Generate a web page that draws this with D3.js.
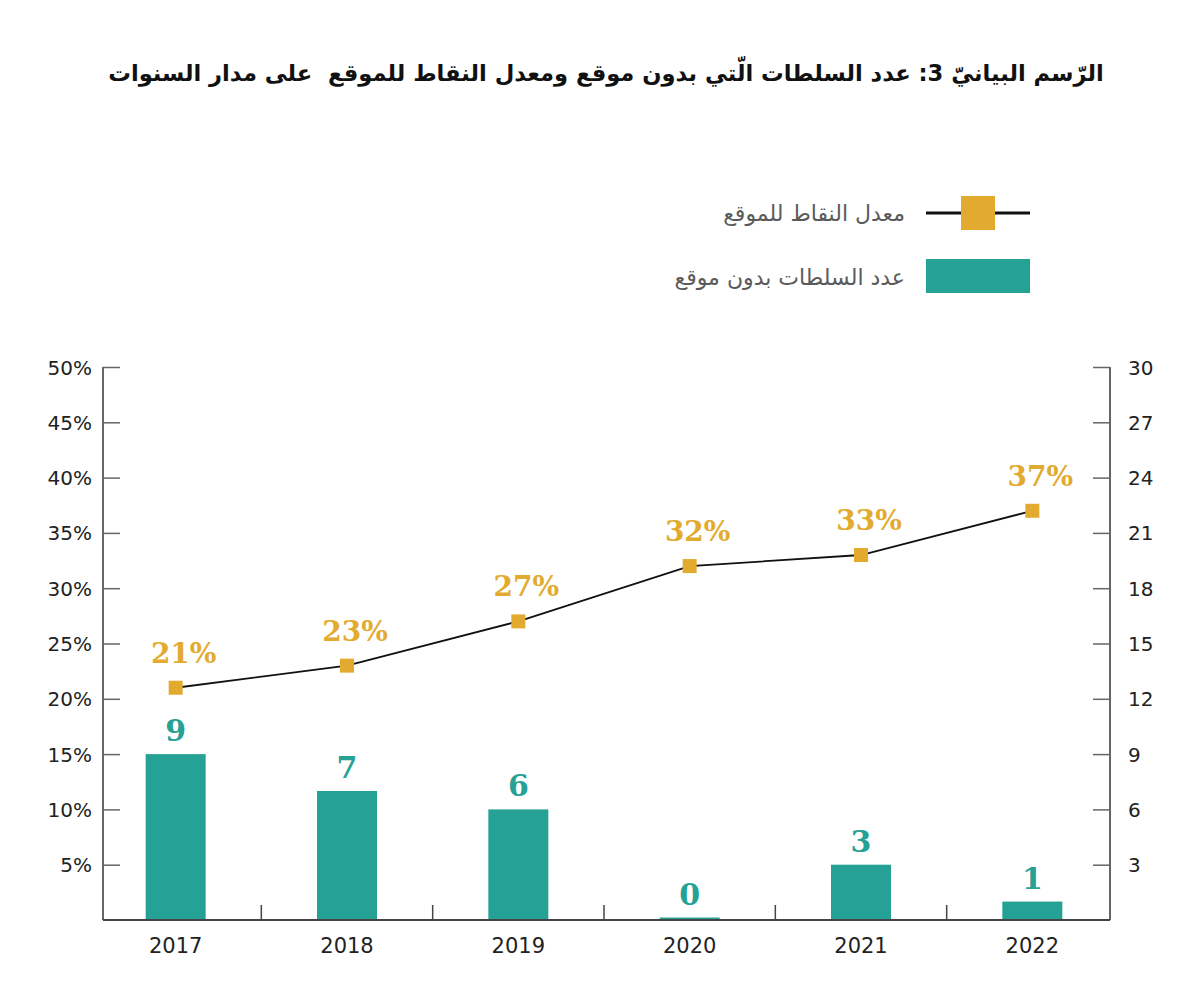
<!DOCTYPE html>
<html>
<head>
<meta charset="utf-8">
<script src="https://cdn.jsdelivr.net/npm/d3@7"></script>
<style>
  html, body { margin: 0; padding: 0; background: #fff; }
  svg { display: block; }
</style>
</head>
<body>
<svg id="chart" width="1200" height="985"></svg>
<script>
const titleText = "الرّسم البيانيّ 3: عدد السلطات الّتي بدون موقع ومعدل النقاط للموقع  على مدار السنوات";
const legendLineLabel = "معدل النقاط للموقع";
const legendBarLabel = "عدد السلطات بدون موقع";
const years = ["2017", "2018", "2019", "2020", "2021", "2022"];
const authoritiesWithoutSite = [9, 7, 6, 0, 3, 1];
const avgScore = [21, 23, 27, 32, 33, 37];
const leftTicks = [5, 10, 15, 20, 25, 30, 35, 40, 45, 50];
const rightTicks = [3, 6, 9, 12, 15, 18, 21, 24, 27, 30];

const TEAL = "#26a196";
const GOLD = "#e2ab30";
const AXIS = "#666";

const svg = d3.select("#chart");

const plotLeft = 103, plotRight = 1110, plotTop = 367, plotBottom = 920;

const x = d3.scaleBand().domain(years).range([90, 1118]).padding(0);
const yL = d3.scaleLinear().domain([0, 50]).range([plotBottom, plotTop]);
const yR = d3.scaleLinear().domain([0, 30]).range([plotBottom, plotTop]);

// Title
svg.append("text")
  .attr("x", 606).attr("y", 81)
  .attr("text-anchor", "middle")
  .attr("direction", "rtl")
  .style("font-family", "'DejaVu Sans', sans-serif")
  .style("font-weight", "bold")
  .style("font-size", "22.6px")
  .style("fill", "#111")
  .style("white-space", "pre")
  .text(titleText);

// Legend
const lg = svg.append("g");
lg.append("line").attr("x1", 926).attr("x2", 1030).attr("y1", 213).attr("y2", 213)
  .attr("stroke", "#111").attr("stroke-width", 3);
lg.append("rect").attr("x", 961).attr("y", 196).attr("width", 34).attr("height", 34).attr("fill", GOLD);
lg.append("text").attr("x", 905).attr("y", 221).attr("text-anchor", "end")
  .style("font-family", "'DejaVu Sans', sans-serif").style("font-size", "22px").style("fill", "#5a5a5a")
  .text(legendLineLabel);
lg.append("rect").attr("x", 926).attr("y", 259).attr("width", 104).attr("height", 34).attr("fill", TEAL);
lg.append("text").attr("x", 905).attr("y", 285).attr("text-anchor", "end")
  .style("font-family", "'DejaVu Sans', sans-serif").style("font-size", "22px").style("fill", "#5a5a5a")
  .text(legendBarLabel);

// Bars
const barW = 60;
const bars = years.map((y, i) => ({ year: y, v: authoritiesWithoutSite[i] }));
svg.append("g").selectAll("rect").data(bars).join("rect")
  .attr("x", d => x(d.year) + x.bandwidth() / 2 - barW / 2)
  .attr("width", barW)
  .attr("y", d => Math.min(yR(d.v), plotBottom - 2.5))
  .attr("height", d => Math.max(plotBottom - yR(d.v), 2.5))
  .attr("fill", TEAL);

svg.append("g").selectAll("text").data(bars).join("text")
  .attr("x", d => x(d.year) + x.bandwidth() / 2)
  .attr("y", d => Math.min(yR(d.v), plotBottom - 2.5) - 13)
  .attr("text-anchor", "middle")
  .style("font-family", "'DejaVu Serif', serif")
  .style("font-weight", "bold")
  .style("font-size", "30px")
  .style("fill", TEAL)
  .text(d => d.v);

// Axes
const axisFont = "'DejaVu Sans', sans-serif";
const gL = svg.append("g").attr("transform", `translate(${plotLeft},0)`)
  .call(d3.axisRight(yL).tickValues(leftTicks).tickSize(17).tickFormat(d => d + "%"));
gL.select(".domain").remove();
gL.selectAll(".tick line").attr("stroke", AXIS).attr("stroke-width", 1.5);
gL.selectAll(".tick text").attr("x", -11).attr("text-anchor", "end").attr("dy", "0.35em")
  .style("font-family", axisFont).style("font-size", "20px").style("fill", "#222");

const gR = svg.append("g").attr("transform", `translate(${plotRight},0)`)
  .call(d3.axisLeft(yR).tickValues(rightTicks).tickSize(17));
gR.select(".domain").remove();
gR.selectAll(".tick line").attr("stroke", AXIS).attr("stroke-width", 1.5);
gR.selectAll(".tick text").attr("x", 18).attr("text-anchor", "start").attr("dy", "0.35em")
  .style("font-family", axisFont).style("font-size", "20px").style("fill", "#222");

// Axis frame lines
svg.append("line").attr("x1", plotLeft).attr("x2", plotLeft).attr("y1", plotTop).attr("y2", plotBottom)
  .attr("stroke", AXIS).attr("stroke-width", 2);
svg.append("line").attr("x1", plotRight).attr("x2", plotRight).attr("y1", plotTop).attr("y2", plotBottom)
  .attr("stroke", AXIS).attr("stroke-width", 2);
svg.append("line").attr("x1", plotLeft).attr("x2", plotRight).attr("y1", plotBottom).attr("y2", plotBottom)
  .attr("stroke", "#444").attr("stroke-width", 2);

// Category boundary ticks
svg.append("g").selectAll("line").data(years.slice(1)).join("line")
  .attr("x1", d => x(d)).attr("x2", d => x(d))
  .attr("y1", plotBottom).attr("y2", plotBottom - 15)
  .attr("stroke", "#444").attr("stroke-width", 1.5);

// X labels
svg.append("g").selectAll("text").data(years).join("text")
  .attr("x", d => x(d) + x.bandwidth() / 2)
  .attr("y", 953)
  .attr("text-anchor", "middle")
  .style("font-family", axisFont).style("font-size", "21px").style("fill", "#222")
  .text(d => d);

// Line
const pts = years.map((y, i) => ({ year: y, v: avgScore[i] }));
const line = d3.line().x(d => x(d.year) + x.bandwidth() / 2).y(d => yL(d.v));
svg.append("path").datum(pts).attr("d", line)
  .attr("fill", "none").attr("stroke", "#111").attr("stroke-width", 1.8);

const mk = 14;
svg.append("g").selectAll("rect").data(pts).join("rect")
  .attr("x", d => x(d.year) + x.bandwidth() / 2 - mk / 2)
  .attr("y", d => yL(d.v) - mk / 2)
  .attr("width", mk).attr("height", mk)
  .attr("fill", GOLD);

svg.append("g").selectAll("text").data(pts).join("text")
  .attr("x", d => x(d.year) + x.bandwidth() / 2 + 8)
  .attr("y", d => yL(d.v) - 25)
  .attr("text-anchor", "middle")
  .style("font-family", "'DejaVu Serif', serif")
  .style("font-weight", "bold")
  .style("font-size", "28px")
  .style("fill", GOLD)
  .text(d => d.v + "%");
</script>
</body>
</html>
